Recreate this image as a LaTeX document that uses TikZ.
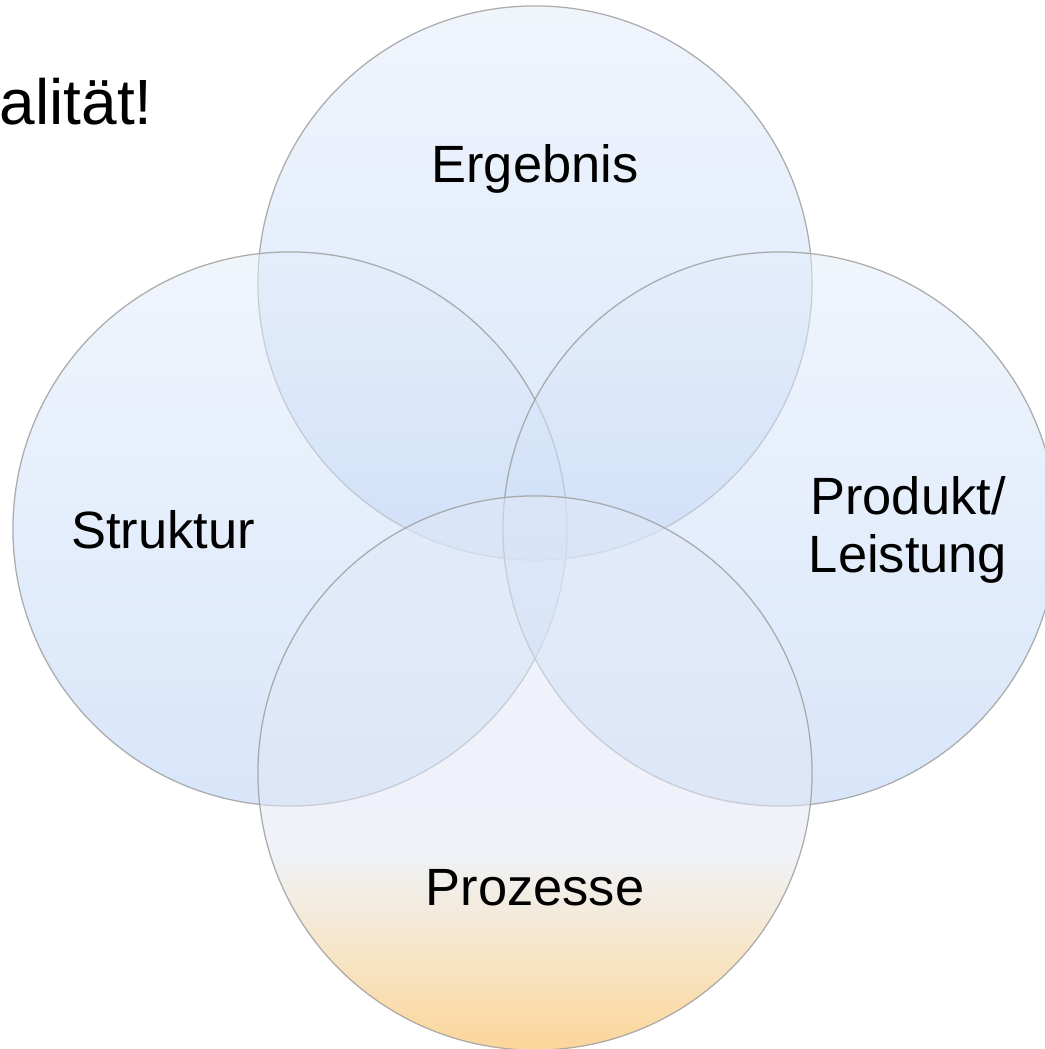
\documentclass[tikz,border=0pt]{standalone}
\usepackage{fontspec}
\setmainfont{Liberation Sans}
\usepackage{xcolor}

\definecolor{ringtop}{HTML}{E4EDFA}
\definecolor{ringbot}{HTML}{B8D1F5}
\definecolor{procbot}{HTML}{F9B347}
\definecolor{procmid}{HTML}{F0D09B}
\definecolor{proclight}{HTML}{E2E8F4}
\definecolor{proctop}{HTML}{E0E9F8}
\pgfdeclareverticalshading{prozshade}{100bp}{color(0bp)=(procbot); color(25bp)=(procbot); color(34bp)=(procmid); color(43bp)=(proclight); color(75bp)=(proctop); color(100bp)=(proctop)}

\begin{document}
\begin{tikzpicture}[x=0.025cm, y=-0.025cm,
    ring/.style={circle, draw=gray!75, line width=0.9pt, draw opacity=0.85,
                 fill opacity=0.55, inner sep=0pt, minimum size=13.85cm},
    bluering/.style={ring, top color=ringtop, bottom color=ringbot},
    procring/.style={ring, shade, shading=prozshade},
    ringtext/.style={font=\fontsize{37.3}{41.5}\selectfont, align=center, inner sep=0pt}]

    \useasboundingbox (0,0) rectangle (1044,1049);

    \node[bluering] (erg)  at (535, 283) {};
    \node[bluering] (str)  at (290, 529) {};
    \node[bluering] (prod) at (780, 529) {};
    \node[procring] (proz) at (535, 773) {};

    \node[ringtext] (ergtext)  at (535, 169) {Ergebnis};
    \node[ringtext] (strtext)  at (163, 530) {Struktur};
    \node[ringtext] (prodtext) at (908, 530) {Produkt/\\Leistung};
    \node[ringtext] (proztext) at (535, 888) {Prozesse};

    \node[anchor=base east, inner sep=0pt, font=\fontsize{45.5}{54}\selectfont]
        (title) at (153, 125) {Qualität!};

\end{tikzpicture}
\end{document}
